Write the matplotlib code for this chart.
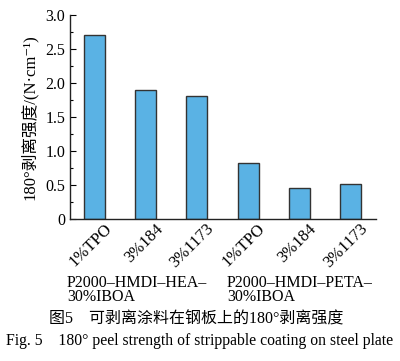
import matplotlib.pyplot as plt
import matplotlib.transforms as mtransforms
from matplotlib.ticker import MultipleLocator, FuncFormatter

plt.rcParams['font.family'] = ['Liberation Serif', 'Noto Sans CJK SC', 'DejaVu Serif']

# data
samples = ['1%TPO', '3%184', '3%1173', '1%TPO', '3%184', '3%1173']
peel = [2.70, 1.89, 1.81, 0.83, 0.46, 0.52]
groups = ['P2000\u2013HMDI\u2013HEA\u2013\n30%IBOA', 'P2000\u2013HMDI\u2013PETA\u2013\n30%IBOA']

fig = plt.figure(figsize=(4.0, 3.61), dpi=100)
ax = fig.add_axes([0.175, 0.3934, 0.765, 0.565])

x = range(len(peel))
ax.bar(x, peel, width=0.41, color='#5ab2e4', edgecolor='#333333', linewidth=1.0)

ax.set_xlim(-0.48, 5.5)
ax.set_ylim(0, 3.0)
ax.yaxis.set_major_locator(MultipleLocator(0.5))
ax.yaxis.set_minor_locator(MultipleLocator(0.25))
ax.yaxis.set_major_formatter(FuncFormatter(lambda v, p: '0' if v == 0 else '%.1f' % v))
ax.tick_params(axis='y', which='both', direction='in', labelsize=11.5, width=0.8)
ax.tick_params(axis='y', which='major', length=4)
ax.tick_params(axis='y', which='minor', length=2.5)
ax.tick_params(axis='x', length=0, labelsize=12, pad=2)
ax.set_xticks(list(x))
ax.set_xticklabels(samples, rotation=45, ha='right', rotation_mode='anchor')
shift = mtransforms.ScaledTranslation(9 / 100, 1 / 100, fig.dpi_scale_trans)
for lbl in ax.get_xticklabels():
    lbl.set_transform(lbl.get_transform() + shift)
ax.spines['top'].set_visible(False)
ax.spines['right'].set_visible(False)
for s in ['left', 'bottom']:
    ax.spines[s].set_linewidth(1.0)
    ax.spines[s].set_color('#222222')

ax.set_ylabel('180°剥离强度/(N·cm\u207b\u00b9)', fontsize=12, labelpad=5)

fig.text(67 / 400, 1 - 290 / 361, groups[0], fontsize=11.5, ha='left', va='center', linespacing=0.9)
fig.text(227 / 400, 1 - 290 / 361, groups[1], fontsize=11.5, ha='left', va='center', linespacing=0.9)

fig.text(196 / 400, 1 - 319 / 361, '图5\u3000可剥离涂料在钢板上的180°剥离强度', fontsize=11.5,
         ha='center', va='center')
fig.text(0.5, 1 - 341 / 361, 'Fig. 5\u2002\u2002180° peel strength of strippable coating on steel plate',
         fontsize=11.3, ha='center', va='center')

fig.savefig('out.png', dpi=100)
